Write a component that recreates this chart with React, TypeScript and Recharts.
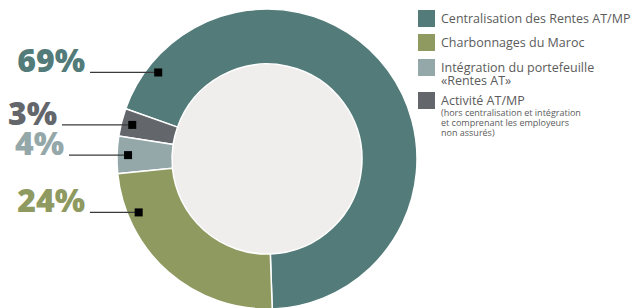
import React from 'react';
import { PieChart, Pie, Cell, Legend } from 'recharts';

// slices in drawing order (counter-clockwise from the bottom)
const names = [
	'Centralisation des Rentes AT/MP',
	'Activité AT/MP',
	'Intégration du portefeuille «Rentes AT»',
	'Charbonnages du Maroc',
];
const shares = [69, 3, 4, 24];
const colors = ['#527b79', '#63676b', '#95a8a9', '#8e9a5f'];

// legend reads in a different order
const legendOrder = [0, 3, 2, 1];
const legendLines = [
	['Centralisation des Rentes AT/MP'],
	['Activité AT/MP'],
	['Intégration du portefeuille', '«Rentes AT»'],
	['Charbonnages du Maroc'],
];
const legendNote = ['hors centralisation et intégration', 'et comprenant les employeurs', 'non assurés'];

const data = names.map((name, i) => ({ name, value: shares[i] }));

// label layout: marker angle (null = mid angle) and right edge of the text
const markerAngle: (number | null)[] = [141.5, null, null, 202.6];
const textEnd = [85, 57, 64, 85];
const rowGap = [7, 8, 5, 0];

const RAD = Math.PI / 180;

const renderLabel = (props: any) => {
	const { cx, cy, outerRadius, midAngle, index } = props;
	const a = markerAngle[index] ?? midAngle;
	const r = outerRadius - 11;
	const mx = cx + r * Math.cos(-a * RAD);
	const my = cy + r * Math.sin(-a * RAD);
	const x0 = textEnd[index];
	return (
		<g key={`lbl-${index}`}>
			<line x1={x0 + 5} y1={my} x2={mx} y2={my} stroke='#3a3a3a' strokeWidth={1.3} />
			<rect x={mx - 4} y={my - 4} width={8} height={8} fill='#000' />
			<text
				x={x0}
				y={my}
				textAnchor='end'
				fill={colors[index]}
				fontSize={32}
				fontWeight={800}
				fontFamily='"Open Sans", sans-serif'
			>
				{shares[index]}%
			</text>
		</g>
	);
};

const renderLegend = () => (
	<div style={{ fontFamily: '"Open Sans", sans-serif', color: '#5b5b5b' }}>
		{legendOrder.map((i, row) => (
			<div key={i} style={{ display: 'flex', alignItems: 'flex-start', marginBottom: rowGap[row] }}>
				<div style={{ width: 17, height: 17, background: colors[i], flexShrink: 0 }} />
				<div style={{ marginLeft: 6, fontSize: 12.5 }}>
					{legendLines[i].map((t, k) => (
						<div key={t} style={k === 0 ? { lineHeight: '17px' } : { lineHeight: '13px', marginTop: -2 }}>
							{t}
						</div>
					))}
					{i === 1 && (
						<div style={{ fontSize: 9, lineHeight: '10px', marginTop: -1 }}>
							{legendNote.map((t, k) => (
								<div key={t}>
									{k === 0 ? '(' : ''}
									{t}
									{k === legendNote.length - 1 ? ')' : ''}
								</div>
							))}
						</div>
					)}
				</div>
			</div>
		))}
	</div>
);

export default function App() {
	return (
		<div style={{ position: 'absolute', left: 0, top: 0, width: 641, height: 308, background: '#fff' }}>
			<PieChart width={641} height={308} margin={{ top: 0, right: 0, bottom: 0, left: 0 }}>
				<Pie
					data={[{ name: 'centre', value: 1 }]}
					dataKey='value'
					cx={267}
					cy={159}
					innerRadius={0}
					outerRadius={96}
					fill='#efeeed'
					stroke='none'
					isAnimationActive={false}
				/>
				<Pie
					data={data}
					dataKey='value'
					cx={267}
					cy={159}
					innerRadius={95}
					outerRadius={150}
					startAngle={-88}
					endAngle={272}
					stroke='#fff'
					strokeWidth={1.5}
					label={renderLabel}
					labelLine={false}
					isAnimationActive={false}
				>
					{data.map((d, i) => (
						<Cell key={d.name} fill={colors[i]} />
					))}
				</Pie>
				<Legend
					layout='vertical'
					align='right'
					verticalAlign='top'
					content={renderLegend}
					wrapperStyle={{ top: 10, left: 418, right: 'auto', width: 223 }}
				/>
			</PieChart>
		</div>
	);
}
